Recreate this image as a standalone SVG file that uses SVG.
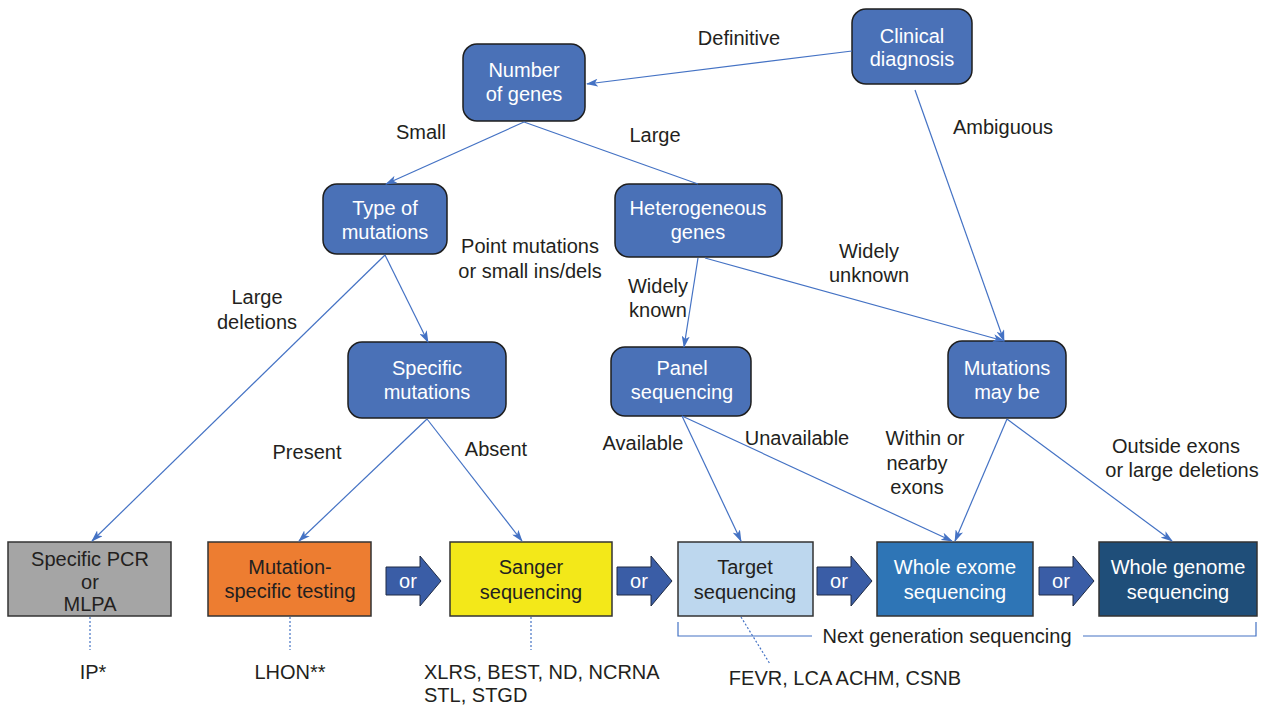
<svg xmlns="http://www.w3.org/2000/svg" width="1262" height="705" viewBox="0 0 1262 705">
  <defs>
    <marker id="arr" viewBox="0 0 12 8" refX="11" refY="4" markerWidth="12" markerHeight="8" markerUnits="userSpaceOnUse" orient="auto">
      <path d="M0,0 L12,4 L0,8 L3,4 z" fill="#4472c4"/>
    </marker>
    <style>
      text { font-family: "Liberation Sans", Arial, sans-serif; font-size: 20px; text-anchor: middle; }
      .node rect.r { fill: #4a71b7; stroke: #1e1e1e; stroke-width: 1.5; }
      .node text { fill: #ffffff; }
      .box rect { stroke: #333333; stroke-width: 1.5; }
      .lbl { fill: #231f20; }
      .wt { fill: #ffffff; }
      .dk { fill: #231f20; }
      .edge { fill: none; stroke: #4472c4; stroke-width: 1.2; }
      .dot { fill: none; stroke: #4472c4; stroke-width: 1.2; stroke-dasharray: 2 2; }
      .orarrow path { fill: #3a5da6; stroke: #1e2a44; stroke-width: 1; }
    </style>
  </defs>

  <rect width="1262" height="705" fill="#ffffff"/>

  <!-- decision nodes -->
  <g id="clinical-diagnosis" class="node">
    <rect class="r" x="852" y="9" width="120" height="75" rx="14"/>
    <text x="912" y="43">Clinical</text>
    <text x="912" y="66">diagnosis</text>
  </g>
  <g id="number-of-genes" class="node">
    <rect class="r" x="463" y="44" width="122" height="77" rx="14"/>
    <text x="524" y="77">Number</text>
    <text x="524" y="101">of genes</text>
  </g>
  <g id="type-of-mutations" class="node">
    <rect class="r" x="323" y="184" width="124" height="70" rx="14"/>
    <text x="385" y="215">Type of</text>
    <text x="385" y="239">mutations</text>
  </g>
  <g id="heterogeneous-genes" class="node">
    <rect class="r" x="615" y="184" width="167" height="73" rx="14"/>
    <text x="698" y="215">Heterogeneous</text>
    <text x="698" y="239">genes</text>
  </g>
  <g id="specific-mutations" class="node">
    <rect class="r" x="348" y="342" width="158" height="76" rx="14"/>
    <text x="427" y="375">Specific</text>
    <text x="427" y="399">mutations</text>
  </g>
  <g id="panel-sequencing" class="node">
    <rect class="r" x="611" y="347" width="140" height="69" rx="14"/>
    <text x="682" y="375">Panel</text>
    <text x="682" y="399">sequencing</text>
  </g>
  <g id="mutations-may-be" class="node">
    <rect class="r" x="948" y="341" width="118" height="77" rx="14"/>
    <text x="1007" y="375">Mutations</text>
    <text x="1007" y="399">may be</text>
  </g>

  <!-- test methods -->
  <g id="specific-pcr" class="box">
    <rect x="8" y="542" width="163" height="74" fill="#a5a5a5"/>
    <text class="dk" x="90" y="566">Specific PCR</text>
    <text class="dk" x="90" y="589">or</text>
    <text class="dk" x="90" y="611">MLPA</text>
  </g>
  <g id="mutation-specific-testing" class="box">
    <rect x="208" y="542" width="163" height="74" fill="#ed7d31"/>
    <text class="dk" x="290" y="574">Mutation-</text>
    <text class="dk" x="290" y="598">specific testing</text>
  </g>
  <g id="sanger-sequencing" class="box">
    <rect x="450" y="542" width="162" height="74" fill="#f3e819"/>
    <text class="dk" x="531" y="574">Sanger</text>
    <text class="dk" x="531" y="599">sequencing</text>
  </g>
  <g id="target-sequencing" class="box">
    <rect x="678" y="542" width="135" height="74" fill="#bdd7ee"/>
    <text class="dk" x="745" y="574">Target</text>
    <text class="dk" x="745" y="599">sequencing</text>
  </g>
  <g id="whole-exome-sequencing" class="box">
    <rect x="877" y="542" width="156" height="74" fill="#2e75b6"/>
    <text class="wt" x="955" y="574">Whole exome</text>
    <text class="wt" x="955" y="599">sequencing</text>
  </g>
  <g id="whole-genome-sequencing" class="box">
    <rect x="1099" y="542" width="158" height="74" fill="#1f4e79"/>
    <text class="wt" x="1178" y="574">Whole genome</text>
    <text class="wt" x="1178" y="599">sequencing</text>
  </g>

  <!-- "or" block arrows between methods -->
  <g id="or-arrows" class="orarrow">
    <g id="or-1">
      <path d="M386,567 H420 V556 L441,581 L420,606 V595 H386 Z"/>
      <text class="wt" x="408" y="588">or</text>
    </g>
    <g id="or-2">
      <path d="M617,567 H651 V556 L672,581 L651,606 V595 H617 Z"/>
      <text class="wt" x="639" y="588">or</text>
    </g>
    <g id="or-3">
      <path d="M817,567 H851 V556 L872,581 L851,606 V595 H817 Z"/>
      <text class="wt" x="839" y="588">or</text>
    </g>
    <g id="or-4">
      <path d="M1039,567 H1073 V556 L1094,581 L1073,606 V595 H1039 Z"/>
      <text class="wt" x="1061" y="588">or</text>
    </g>
  </g>

  <!-- connectors -->
  <g id="connectors">
    <line class="edge" x1="852" y1="51" x2="587" y2="84" marker-end="url(#arr)"/>
    <line class="edge" x1="915" y1="90" x2="1004" y2="341" marker-end="url(#arr)"/>
    <line class="edge" x1="524" y1="122" x2="386" y2="184" marker-end="url(#arr)"/>
    <line class="edge" x1="524" y1="122" x2="698" y2="184"/>
    <line class="edge" x1="385" y1="255" x2="92" y2="541" marker-end="url(#arr)"/>
    <line class="edge" x1="385" y1="255" x2="428" y2="342" marker-end="url(#arr)"/>
    <line class="edge" x1="698" y1="258" x2="684" y2="347" marker-end="url(#arr)"/>
    <line class="edge" x1="705" y1="258" x2="1004" y2="341" marker-end="url(#arr)"/>
    <line class="edge" x1="427" y1="419" x2="299" y2="541" marker-end="url(#arr)"/>
    <line class="edge" x1="427" y1="419" x2="522" y2="541" marker-end="url(#arr)"/>
    <line class="edge" x1="682" y1="416" x2="741" y2="541" marker-end="url(#arr)"/>
    <line class="edge" x1="682" y1="416" x2="952" y2="541" marker-end="url(#arr)"/>
    <line class="edge" x1="1007" y1="419" x2="955" y2="541" marker-end="url(#arr)"/>
    <line class="edge" x1="1007" y1="419" x2="1172" y2="541" marker-end="url(#arr)"/>

    <!-- dotted leaders to example conditions -->
    <line class="dot" x1="90" y1="617" x2="90" y2="650"/>
    <line class="dot" x1="290" y1="617" x2="290" y2="650"/>
    <line class="dot" x1="531" y1="617" x2="531" y2="650"/>
    <line class="dot" x1="741" y1="617" x2="770" y2="664"/>

    <!-- next generation sequencing bracket -->
    <path class="edge" d="M678,622 V636 H812"/>
    <path class="edge" d="M1083,636 H1256 V622"/>
  </g>

  <!-- connector labels -->
  <g id="labels" class="lbl">
    <text x="739" y="45">Definitive</text>
    <text x="1003" y="134">Ambiguous</text>
    <text x="421" y="139">Small</text>
    <text x="655" y="142">Large</text>
    <text x="257" y="304">Large</text>
    <text x="257" y="329">deletions</text>
    <text x="530" y="253">Point mutations</text>
    <text x="530" y="278">or small ins/dels</text>
    <text x="658" y="293">Widely</text>
    <text x="658" y="317">known</text>
    <text x="869" y="258">Widely</text>
    <text x="869" y="282">unknown</text>
    <text x="307" y="459">Present</text>
    <text x="496" y="456">Absent</text>
    <text x="643" y="450">Available</text>
    <text x="797" y="445">Unavailable</text>
    <text x="925" y="445">Within or</text>
    <text x="917" y="470">nearby</text>
    <text x="917" y="494">exons</text>
    <text x="1176" y="453">Outside exons</text>
    <text x="1182" y="477">or large deletions</text>
    <text x="947" y="643">Next generation sequencing</text>
    <text x="93" y="679">IP*</text>
    <text x="290" y="679">LHON**</text>
    <text x="424" y="679" style="text-anchor:start">XLRS, BEST, ND, NCRNA</text>
    <text x="424" y="702" style="text-anchor:start">STL, STGD</text>
    <text x="845" y="685">FEVR, LCA ACHM, CSNB</text>
  </g>
</svg>
